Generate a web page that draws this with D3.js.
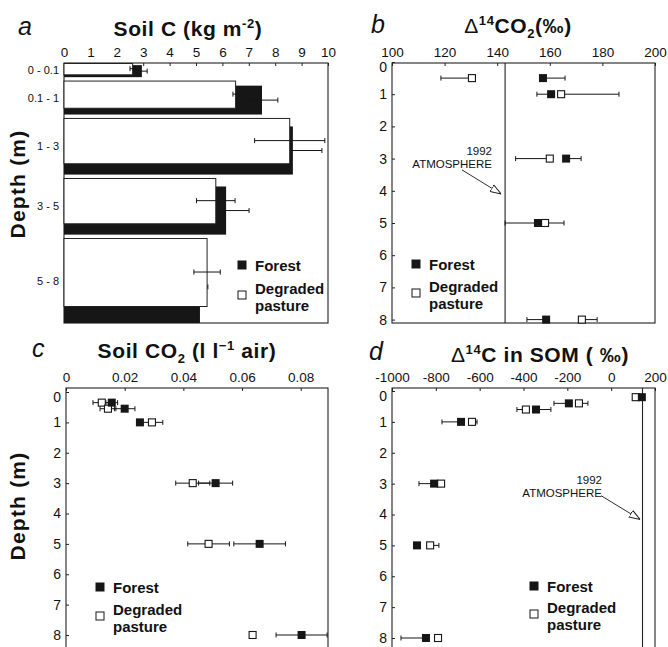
<!DOCTYPE html>
<html>
<head>
<meta charset="utf-8">
<script src="https://cdn.jsdelivr.net/npm/d3@7"></script>
<style>
body { margin: 0; background: #fff; }
svg { display: block; }
text { font-family: "Liberation Sans", Arial, sans-serif; fill: #111; white-space: pre; }
</style>
</head>
<body>
<div id="chart"></div>
<script>
// a: soil carbon stocks by depth interval
const soilDepthLabels = ["0 - 0.1", "0.1 - 1", "1 - 3", "3 - 5", "5 - 8"];
const soilCForest = [2.95, 7.5, 8.67, 6.14, 5.15];
const soilCForestErr = [0.2, 0.6, 1.1, 0.87, 0.3];
const soilCPasture = [2.6, 6.5, 8.55, 5.75, 5.42];
const soilCPastureErr = [0.1, 0.1, 1.33, 0.73, 0.5];
const soilCTicks = [0, 1, 2, 3, 4, 5, 6, 7, 8, 9, 10];

// b: delta 14C of soil CO2
const d14co2Depths = [0.5, 1, 3, 5, 8];
const d14co2Forest = [157.4, 160.5, 166.2, 155.5, 158.6];
const d14co2ForestLo = [0, 5.4, 0, 12.5, 7.3];
const d14co2ForestHi = [8.4, 0, 5.7, 0, 0];
const d14co2Pasture = [130.4, 164.3, 160, 158.2, 172.2];
const d14co2PastureLo = [11.8, 0, 13, 0, 0];
const d14co2PastureHi = [0, 22, 0, 7.2, 5.8];
const d14co2Ticks = [100, 120, 140, 160, 180, 200];

// c: soil CO2 concentration
const co2Depths = [0.35, 0.55, 1, 3, 5, 8];
const co2Forest = [0.0156, 0.020, 0.0252, 0.051, 0.066, 0.0803];
const co2ForestErr = [0.002, 0.0035, 0, 0.0058, 0.0088, 0.0087];
const co2Pasture = [0.0122, 0.0143, 0.0293, 0.0432, 0.0486, 0.0636];
const co2PastureErr = [0.003, 0.0027, 0.0037, 0.0058, 0.0071, 0];
const co2Ticks = [0, 0.02, 0.04, 0.06, 0.08];

// d: delta 14C in soil organic matter
const somDepths = [0.2, 0.4, 0.6, 1, 3, 5, 8];
const somForest = [140, -193, -343, -685, -808, -886, -845];
const somForestLo = [0, 68, 0, 87, 69, 0, 114];
const somForestHi = [0, 0, 68, 0, 0, 0, 0];
const somPasture = [112, -147, -389, -635, -776, -826, -790];
const somPastureLo = [0, 0, 41, 0, 0, 0, 0];
const somPastureHi = [0, 41, 0, 23, 0, 40, 0];
const somTicks = [-1000, -800, -600, -400, -200, 0, 200];

const depthTicks = [0, 1, 2, 3, 4, 5, 6, 7, 8];
const atmosphere1992 = 143;

const width = 668, height = 647;
const ink = "#161616";

const svg = d3.select("#chart")
    .append("svg")
    .attr("width", width)
    .attr("height", height);

svg.append("defs").append("marker")
    .attr("id", "openArrow")
    .attr("viewBox", "0 0 10 10")
    .attr("refX", 10)
    .attr("refY", 5)
    .attr("markerWidth", 11)
    .attr("markerHeight", 11)
    .attr("markerUnits", "userSpaceOnUse")
    .attr("orient", "auto")
    .append("path")
    .attr("d", "M0,1.5 L10,5 L0,8.5 Z")
    .attr("fill", "#fff")
    .attr("stroke", ink)
    .attr("stroke-width", 0.9);

// helpers
function frame(x0, y0, x1, y1) {
    svg.append("rect")
        .attr("x", x0).attr("y", y0)
        .attr("width", x1 - x0).attr("height", y1 - y0)
        .attr("fill", "none")
        .attr("stroke", "#222")
        .attr("stroke-width", 1.1);
}

function topAxis(x, ticks, fmt, y) {
    const g = svg.append("g")
        .attr("transform", `translate(0,${y})`)
        .call(d3.axisTop(x).tickValues(ticks).tickFormat(fmt)
            .tickSizeInner(-3).tickSizeOuter(0).tickPadding(6));
    g.select(".domain").remove();
    g.selectAll("line").attr("stroke", "#222");
    g.selectAll("text")
        .attr("font-family", "Liberation Sans, Arial, sans-serif")
        .attr("font-size", 13.5)
        .attr("fill", ink);
    return g;
}

function leftAxis(y, ticks, x, size) {
    const g = svg.append("g")
        .attr("transform", `translate(${x},0)`)
        .call(d3.axisLeft(y).tickValues(ticks)
            .tickSizeInner(-3).tickSizeOuter(0).tickPadding(5));
    g.select(".domain").remove();
    g.selectAll("line").attr("stroke", "#222");
    g.selectAll("text")
        .attr("font-family", "Liberation Sans, Arial, sans-serif")
        .attr("font-size", size)
        .attr("fill", ink);
    return g;
}

function richTitle(cx, y, parts) {
    const t = svg.append("text")
        .attr("x", cx).attr("y", y)
        .attr("text-anchor", "middle")
        .attr("font-size", 21)
        .attr("font-weight", "bold")
        .style("letter-spacing", "0.6px");
    let shift = 0;
    parts.forEach(p => {
        const target = p.sup ? -8 : p.sub ? 5 : 0;
        t.append("tspan")
            .attr("dy", target - shift)
            .attr("font-size", p.sup || p.sub ? 13 : 21)
            .attr("font-weight", p.light ? "normal" : "bold")
            .text(p.t);
        shift = target;
    });
}

function panelLetter(x, y, s) {
    svg.append("text")
        .attr("x", x).attr("y", y)
        .attr("font-family", "Liberation Serif, Times New Roman, serif")
        .attr("font-style", "italic")
        .attr("font-size", 25)
        .text(s);
}

function depthLabel(cy) {
    svg.append("text")
        .attr("transform", `translate(25,${cy}) rotate(-90)`)
        .attr("text-anchor", "middle")
        .attr("font-size", 21)
        .attr("font-weight", "bold")
        .style("letter-spacing", "1.2px")
        .text("Depth (m)");
}

function legend(x, y1, y2) {
    svg.append("rect").attr("x", x - 4.5).attr("y", y1 - 4.5)
        .attr("width", 9).attr("height", 9).attr("fill", ink);
    svg.append("rect").attr("x", x - 4).attr("y", y2 - 4)
        .attr("width", 8).attr("height", 8)
        .attr("fill", "#fff").attr("stroke", ink).attr("stroke-width", 1);
    const font = t => t.attr("font-size", 15).attr("font-weight", "bold");
    font(svg.append("text").attr("x", x + 13).attr("y", y1 + 5.5).text("Forest"));
    font(svg.append("text").attr("x", x + 13).attr("y", y2 - 1.5).text("Degraded"));
    font(svg.append("text").attr("x", x + 13).attr("y", y2 + 15.5).text("pasture"));
}

function errorBar(g, x, y, v, lo, hi) {
    if (lo <= 0 && hi <= 0) return;
    const x0 = x(v - lo), x1 = x(v + hi);
    g.append("line").attr("x1", x0).attr("x2", x1).attr("y1", y).attr("y2", y)
        .attr("stroke", ink).attr("stroke-width", 1);
    if (lo > 0) g.append("line").attr("x1", x0).attr("x2", x0)
        .attr("y1", y - 2.5).attr("y2", y + 2.5).attr("stroke", ink);
    if (hi > 0) g.append("line").attr("x1", x1).attr("x2", x1)
        .attr("y1", y - 2.5).attr("y2", y + 2.5).attr("stroke", ink);
}

// ---------- panel a ----------
{
    const left = 64, right = 328, top = 63, bottom = 323;
    const x = d3.scaleLinear().domain([0, 10]).range([left, right]);
    // unequal band heights for the depth intervals
    const bandUnits = [0.5, 1.2, 2, 2, 3];
    const gap = 0.12;
    const u = d3.scaleLinear()
        .domain([0, d3.sum(bandUnits) + gap * (bandUnits.length - 1)])
        .range([top, bottom]);
    const bands = [];
    let acc = 0;
    bandUnits.forEach((w, i) => {
        bands.push({ y0: u(acc), y1: u(acc + w) });
        acc += w + gap;
    });
    const bandY = d3.scaleOrdinal()
        .domain(soilDepthLabels)
        .range(bands.map(b => (b.y0 + b.y1) / 2));

    frame(left, top, right, bottom);
    topAxis(x, soilCTicks, d => String(d), top);
    leftAxis(bandY, soilDepthLabels, left, 11);

    const g = svg.append("g");
    const rows = soilDepthLabels.map((lab, i) => {
        const b = bands[i], h = b.y1 - b.y0;
        return { b, h, i };
    });
    // forest bars sit behind, offset downward
    g.selectAll("rect.forest").data(rows).enter().append("rect")
        .attr("class", "forest")
        .attr("x", x(0))
        .attr("y", d => d.b.y0 + 0.15 * d.h)
        .attr("width", d => x(soilCForest[d.i]) - x(0))
        .attr("height", d => 0.85 * d.h)
        .attr("fill", ink);
    rows.forEach(d => errorBar(g, x, d.b.y0 + 0.575 * d.h,
        soilCForest[d.i], soilCForestErr[d.i], soilCForestErr[d.i]));
    g.selectAll("rect.pasture").data(rows).enter().append("rect")
        .attr("class", "pasture")
        .attr("x", x(0))
        .attr("y", d => d.b.y0 + 0.5)
        .attr("width", d => x(soilCPasture[d.i]) - x(0))
        .attr("height", d => 0.8 * d.h)
        .attr("fill", "#fff")
        .attr("stroke", "#222")
        .attr("stroke-width", 1);
    rows.forEach(d => errorBar(g, x, d.b.y0 + 0.4 * d.h,
        soilCPasture[d.i], soilCPastureErr[d.i], soilCPastureErr[d.i]));

    legend(242, 265, 295);
    panelLetter(18, 35, "a");
    richTitle(188, 36, [{ t: "Soil C (kg m" }, { t: "-2", sup: true }, { t: ")" }]);
}

// ---------- point panels ----------
function pointPanel(cfg) {
    const { left, right, top, bottom, x, y, xTicks, xFmt } = cfg;
    frame(left, top, right, bottom);
    topAxis(x, xTicks, xFmt, top);
    const ya = leftAxis(y, depthTicks, left, 14);
    // the 0 label sits just under the top tick labels
    ya.selectAll("text").filter(d => d === 0).attr("dy", "0.66em");

    const g = svg.append("g");
    if (cfg.atmosphere !== undefined) {
        g.append("line")
            .attr("x1", x(cfg.atmosphere)).attr("x2", x(cfg.atmosphere))
            .attr("y1", top).attr("y2", bottom)
            .attr("stroke", "#222").attr("stroke-width", 1.1);
    }
    cfg.depths.forEach((dep, i) => {
        errorBar(g, x, y(dep), cfg.forest[i], cfg.forestLo[i], cfg.forestHi[i]);
        errorBar(g, x, y(dep), cfg.pasture[i], cfg.pastureLo[i], cfg.pastureHi[i]);
    });
    g.selectAll("rect.pasture").data(cfg.depths).enter().append("rect")
        .attr("class", "pasture")
        .attr("x", (d, i) => x(cfg.pasture[i]) - 3.5)
        .attr("y", d => y(d) - 3.5)
        .attr("width", 7).attr("height", 7)
        .attr("fill", "#fff").attr("stroke", ink).attr("stroke-width", 1.1);
    g.selectAll("rect.forest").data(cfg.depths).enter().append("rect")
        .attr("class", "forest")
        .attr("x", (d, i) => x(cfg.forest[i]) - 4)
        .attr("y", d => y(d) - 4)
        .attr("width", 8).attr("height", 8)
        .attr("fill", ink);

    if (cfg.note) {
        const n = cfg.note;
        svg.append("text").attr("x", n.tx).attr("y", n.ty - 13)
            .attr("text-anchor", "end").attr("font-size", 11.5).text("1992");
        svg.append("text").attr("x", n.tx).attr("y", n.ty)
            .attr("text-anchor", "end").attr("font-size", 11.5).text("ATMOSPHERE");
        svg.append("line")
            .attr("x1", x(n.from[0])).attr("y1", y(n.from[1]))
            .attr("x2", x(n.to[0])).attr("y2", y(n.to[1]))
            .attr("stroke", ink).attr("stroke-width", 0.9)
            .attr("marker-end", "url(#openArrow)");
    }
}

// b
{
    const x = d3.scaleLinear().domain([100, 200]).range([392, 655]);
    const y = d3.scaleLinear().domain([0, 8]).range([62, 319.6]);
    pointPanel({
        left: 392, right: 655, top: 63, bottom: 323, x, y,
        xTicks: d14co2Ticks, xFmt: d => String(d),
        depths: d14co2Depths,
        forest: d14co2Forest, forestLo: d14co2ForestLo, forestHi: d14co2ForestHi,
        pasture: d14co2Pasture, pastureLo: d14co2PastureLo, pastureHi: d14co2PastureHi,
        atmosphere: atmosphere1992,
        note: { tx: 492, ty: 168, from: [126.6, 3.35], to: [141.5, 4.1] }
    });
    legend(416, 264, 293);
    panelLetter(371, 33, "b");
    richTitle(518, 33, [{ t: "Δ", light: true }, { t: "14", sup: true }, { t: "CO" },
        { t: "2", sub: true }, { t: "(‰)" }]);
}

// c
{
    const x = d3.scaleLinear().domain([0, 0.0893]).range([66, 328]);
    const y = d3.scaleLinear().domain([0, 8]).range([392, 635]);
    pointPanel({
        left: 66, right: 328, top: 388, bottom: 650, x, y,
        xTicks: co2Ticks, xFmt: d => d === 0 ? "0" : d3.format(".2f")(d),
        depths: co2Depths,
        forest: co2Forest, forestLo: co2ForestErr, forestHi: co2ForestErr,
        pasture: co2Pasture, pastureLo: co2PastureErr, pastureHi: co2PastureErr
    });
    legend(100, 587, 616);
    panelLetter(32, 357, "c");
    richTitle(187, 358, [{ t: "Soil CO" }, { t: "2", sub: true }, { t: " (l l" },
        { t: "−1", sup: true }, { t: " air)" }]);
}

// d
{
    const x = d3.scaleLinear().domain([-1000, 200]).range([392, 655]);
    const y = d3.scaleLinear().domain([0, 8]).range([391, 638]);
    pointPanel({
        left: 392, right: 655, top: 388, bottom: 650, x, y,
        xTicks: somTicks, xFmt: d => String(d),
        depths: somDepths,
        forest: somForest, forestLo: somForestLo, forestHi: somForestHi,
        pasture: somPasture, pastureLo: somPastureLo, pastureHi: somPastureHi,
        atmosphere: atmosphere1992,
        note: { tx: 602, ty: 497, from: [-46, 3.39], to: [132, 4.16] }
    });
    legend(534, 586, 614);
    panelLetter(369, 360, "d");
    richTitle(540, 362, [{ t: "Δ", light: true }, { t: "14", sup: true }, { t: "C in SOM ( ‰)" }]);
}

depthLabel(184);
depthLabel(506);
</script>
</body>
</html>
